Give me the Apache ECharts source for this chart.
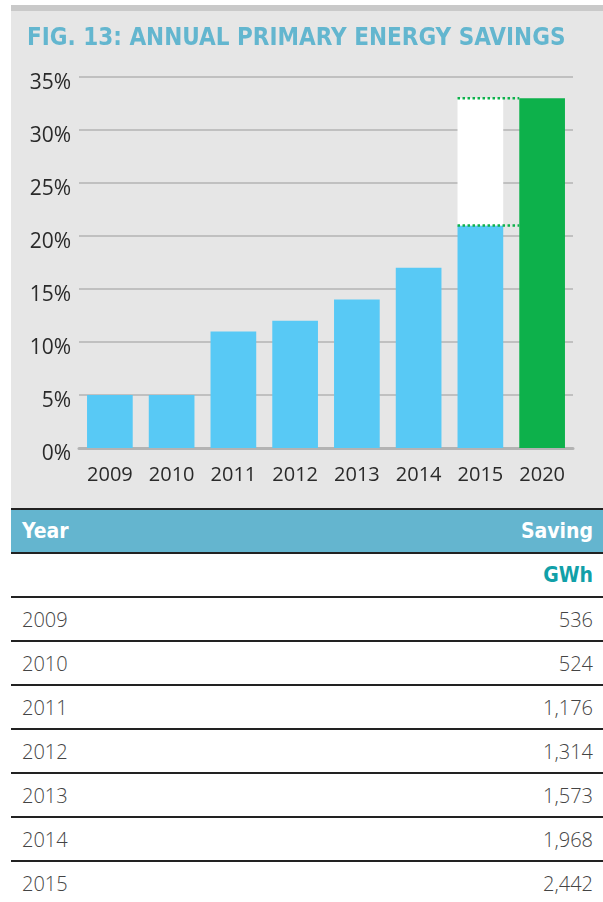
<!DOCTYPE html>
<html lang="en">
<head>
  <meta charset="UTF-8">
  <title>Annual primary energy savings</title>
  <script src="https://cdn.jsdelivr.net/npm/echarts@6/dist/echarts.min.js"></script>
  <style>
    body {
      margin: 0;
      background: #fff;
      font-family: "Open Sans", sans-serif;
    }

    .page {
      position: relative;
      width: 603px;
      height: 902px;
      overflow: hidden;
    }

    .stripe {
      position: absolute;
      left: 11px;
      top: 5px;
      width: 592px;
      height: 6px;
      background: #c9c9c9;
    }

    .box {
      position: absolute;
      left: 11px;
      top: 11px;
      width: 592px;
      height: 497px;
      background: #e6e6e6;
    }

    .table {
      position: absolute;
      left: 11px;
      top: 508px;
      width: 592px;
      border-top: 2px solid #222;
    }

    .row {
      height: 42px;
      border-bottom: 2px solid #222;
      display: flex;
      justify-content: space-between;
      align-items: center;
      padding: 0 10px 0 11px;
      font-size: 20px;
      font-weight: 300;
      color: #444;
    }

    .head {
      background: #64b5cf;
      color: #fff;
      font-weight: bold;
      font-family: "DejaVu Sans Condensed", sans-serif;
      font-size: 21px;
    }

    .unit {
      justify-content: flex-end;
      color: #11a0a8;
      font-weight: bold;
      font-family: "DejaVu Sans Condensed", sans-serif;
      font-size: 21px;
    }
  </style>
</head>
<body>
<div class="page">
  <div class="stripe"></div>
  <div class="box" id="chart"></div>
  <div class="table" id="table"></div>
</div>

<script>
  // chart data (share of primary energy, %)
  var years = ['2009', '2010', '2011', '2012', '2013', '2014', '2015', '2020'];
  var actualShare = [5, 5, 11, 12, 14, 17, 21, '-'];
  var gapShare = ['-', '-', '-', '-', '-', '-', 12, '-'];   // 2015 up to the 2020 target
  var targetShare = ['-', '-', '-', '-', '-', '-', '-', 33];
  var guideLines = [[6, 33], [6, 21]];
  var yTicks = [0, 5, 10, 15, 20, 25, 30, 35];

  // table data
  var tableYears = ['2009', '2010', '2011', '2012', '2013', '2014', '2015'];
  var tableGWh = ['536', '524', '1,176', '1,314', '1,573', '1,968', '2,442'];

  var blue = '#58c9f5';
  var green = '#0db14b';
  var barPct = 0.74;

  var table = document.getElementById('table');
  var html = '<div class="row head"><span>Year</span><span>Saving</span></div>';
  html += '<div class="row unit"><span>GWh</span></div>';
  for (var i = 0; i < tableYears.length; i++) {
    html += '<div class="row"><span>' + tableYears[i] + '</span><span>' + tableGWh[i] + '</span></div>';
  }
  table.innerHTML = html;

  var myChart = echarts.init(document.getElementById('chart'));
  var option = {
    animation: false,
    title: {
      text: 'FIG. 13: ANNUAL PRIMARY ENERGY SAVINGS',
      left: 16,
      top: 16,
      padding: 0,
      textStyle: {
        fontFamily: '"DejaVu Sans Condensed", sans-serif',
        fontSize: 24,
        fontWeight: 'bold',
        color: '#63b6cf'
      }
    },
    grid: {
      left: 68,
      right: 30,
      top: 66,
      bottom: 60
    },
    xAxis: {
      type: 'category',
      data: years,
      axisLine: {lineStyle: {color: '#b3b3b3', width: 3}},
      axisTick: {inside: true, length: 8, lineStyle: {color: '#b3b3b3', width: 2}},
      axisLabel: {
        margin: 17,
        fontSize: 20,
        fontFamily: '"Open Sans", sans-serif',
        color: '#2a2a2a'
      }
    },
    yAxis: {
      type: 'value',
      min: 0,
      max: 35,
      interval: 5,
      axisLine: {show: false},
      axisTick: {show: false},
      axisLabel: {
        margin: 8,
        verticalAlign: 'top',
        lineHeight: 12,
        fontSize: 21,
        fontFamily: '"Open Sans", sans-serif',
        color: '#2a2a2a',
        formatter: function (v) {
          return yTicks.indexOf(v) >= 0 ? v + '%' : '';
        }
      },
      splitLine: {lineStyle: {color: '#b3b3b3', width: 1.5}}
    },
    series: [
      {
        name: 'actual',
        type: 'bar',
        stack: 'a',
        data: actualShare,
        barWidth: (barPct * 100) + '%',
        barGap: '-100%',
        itemStyle: {color: blue}
      },
      {
        name: 'gap',
        type: 'bar',
        stack: 'a',
        data: gapShare,
        barWidth: (barPct * 100) + '%',
        itemStyle: {color: '#ffffff'}
      },
      {
        name: 'target',
        type: 'bar',
        data: targetShare,
        barWidth: (barPct * 100) + '%',
        barGap: '-100%',
        itemStyle: {color: green}
      },
      {
        name: 'guide',
        type: 'custom',
        data: guideLines,
        z: 5,
        renderItem: function (params, api) {
          var c = api.coord([api.value(0), api.value(1)]);
          var band = api.size([1, 0])[0];
          var bw = band * barPct;
          return {
            type: 'line',
            shape: {x1: c[0] - bw / 2, y1: c[1], x2: c[0] + band - bw / 2, y2: c[1]},
            style: {stroke: green, lineWidth: 2.5, lineDash: [2.5, 2.5]}
          };
        }
      }
    ]
  };
  myChart.setOption(option);
</script>
</body>
</html>
